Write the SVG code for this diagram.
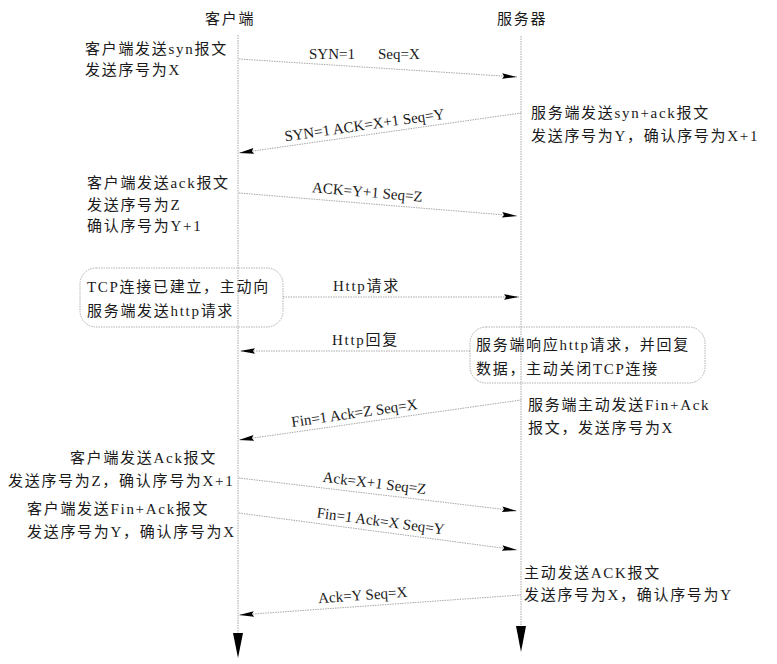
<svg xmlns="http://www.w3.org/2000/svg" width="777" height="664" viewBox="0 0 777 664">
<defs>
<style>
.t{font-family:"Liberation Serif","Noto Sans CJK SC",serif;font-size:15px;fill:#1a1a1a;letter-spacing:1.7px}
.l{font-family:"Liberation Serif","Noto Sans CJK SC",serif;font-size:15px;fill:#1a1a1a}
.life{stroke:#a8a8a8;stroke-width:1;stroke-dasharray:1.5 1;fill:none}
.msg{stroke:#a8a8a8;stroke-width:1;stroke-dasharray:1.5 1;fill:none;marker-end:url(#ah)}
.box{fill:#fff;stroke:#b0b0b0;stroke-width:1;stroke-dasharray:1.5 1}
.head{fill:#000}
</style>
<marker id="ah" markerUnits="userSpaceOnUse" markerWidth="16" markerHeight="8" refX="15" refY="4" orient="auto">
<path d="M0,1.2 L15,4 L0,6.8 L2,4 z" fill="#000"/>
</marker>
</defs>
<rect width="777" height="664" fill="#fff"/>

<g id="client">
<text class="t" x="205" y="24">客户端</text>
</g>
<g id="server">
<text class="t" x="497" y="24">服务器</text>
</g>

<g id="note-c1">
<text class="t" x="85" y="54">客户端发送syn报文</text>
<text class="t" x="85" y="75">发送序号为X</text>
</g>
<g id="note-s1">
<text class="t" x="531" y="118">服务端发送syn+ack报文</text>
<text class="t" x="531" y="141">发送序号为Y，确认序号为X+1</text>
</g>
<g id="note-c2">
<text class="t" x="87" y="188">客户端发送ack报文</text>
<text class="t" x="87" y="210">发送序号为Z</text>
<text class="t" x="87" y="231">确认序号为Y+1</text>
</g>
<g id="box-c">
<rect class="box" x="80" y="268" width="203" height="59" rx="16"/>
<text class="t" x="87" y="292">TCP连接已建立，主动向</text>
<text class="t" x="87" y="316">服务端发送http请求</text>
</g>
<g id="box-s">
<rect class="box" x="470" y="327" width="235" height="56" rx="16"/>
<text class="t" x="476" y="350">服务端响应http请求，并回复</text>
<text class="t" x="476" y="374">数据，主动关闭TCP连接</text>
</g>
<g id="note-s2">
<text class="t" x="528" y="410">服务端主动发送Fin+Ack</text>
<text class="t" x="528" y="433">报文，发送序号为X</text>
</g>
<g id="note-c3">
<text class="t" x="70" y="463">客户端发送Ack报文</text>
<text class="t" x="8" y="486">发送序号为Z，确认序号为X+1</text>
</g>
<g id="note-c4">
<text class="t" x="27" y="514">客户端发送Fin+Ack报文</text>
<text class="t" x="27" y="537">发送序号为Y，确认序号为X</text>
</g>
<g id="note-s3">
<text class="t" x="524" y="578">主动发送ACK报文</text>
<text class="t" x="524" y="600">发送序号为X，确认序号为Y</text>
</g>

<g id="connectors">
<line class="life" x1="238" y1="35" x2="238" y2="640"/>
<polygon class="head" points="233,633 243,633 238,658"/>
<line class="life" x1="521" y1="36" x2="521" y2="632"/>
<polygon class="head" points="516,626 526,626 521,652"/>

<line class="msg" x1="239" y1="59" x2="517" y2="77"/>
<text class="l" x="309" y="59">SYN=1</text>
<text class="l" x="378" y="59">Seq=X</text>

<line class="msg" x1="521" y1="113" x2="239" y2="153"/>
<text class="l" text-anchor="middle" transform="translate(365,130) rotate(-8.1)">SYN=1 ACK=X+1 Seq=Y</text>

<line class="msg" x1="239" y1="193" x2="517" y2="216"/>
<text class="l" text-anchor="middle" transform="translate(367,197) rotate(5)">ACK=Y+1 Seq=Z</text>

<line class="msg" x1="283" y1="297" x2="519" y2="297"/>
<text class="t" x="333" y="291">Http请求</text>

<line class="msg" x1="470" y1="351" x2="240" y2="351"/>
<text class="t" x="332" y="345">Http回复</text>

<line class="msg" x1="521" y1="400" x2="239" y2="440"/>
<text class="l" text-anchor="middle" transform="translate(355,418) rotate(-8.1)">Fin=1 Ack=Z Seq=X</text>

<line class="msg" x1="239" y1="478" x2="517" y2="511"/>
<text class="l" text-anchor="middle" transform="translate(374,488) rotate(6.8)">Ack=X+1 Seq=Z</text>

<line class="msg" x1="239" y1="513" x2="517" y2="550"/>
<text class="l" text-anchor="middle" transform="translate(380,526) rotate(7.6)">Fin=1 Ack=X Seq=Y</text>

<line class="msg" x1="521" y1="595" x2="239" y2="615"/>
<text class="l" text-anchor="middle" transform="translate(363,600) rotate(-4.1)">Ack=Y Seq=X</text>
</g>
</svg>
